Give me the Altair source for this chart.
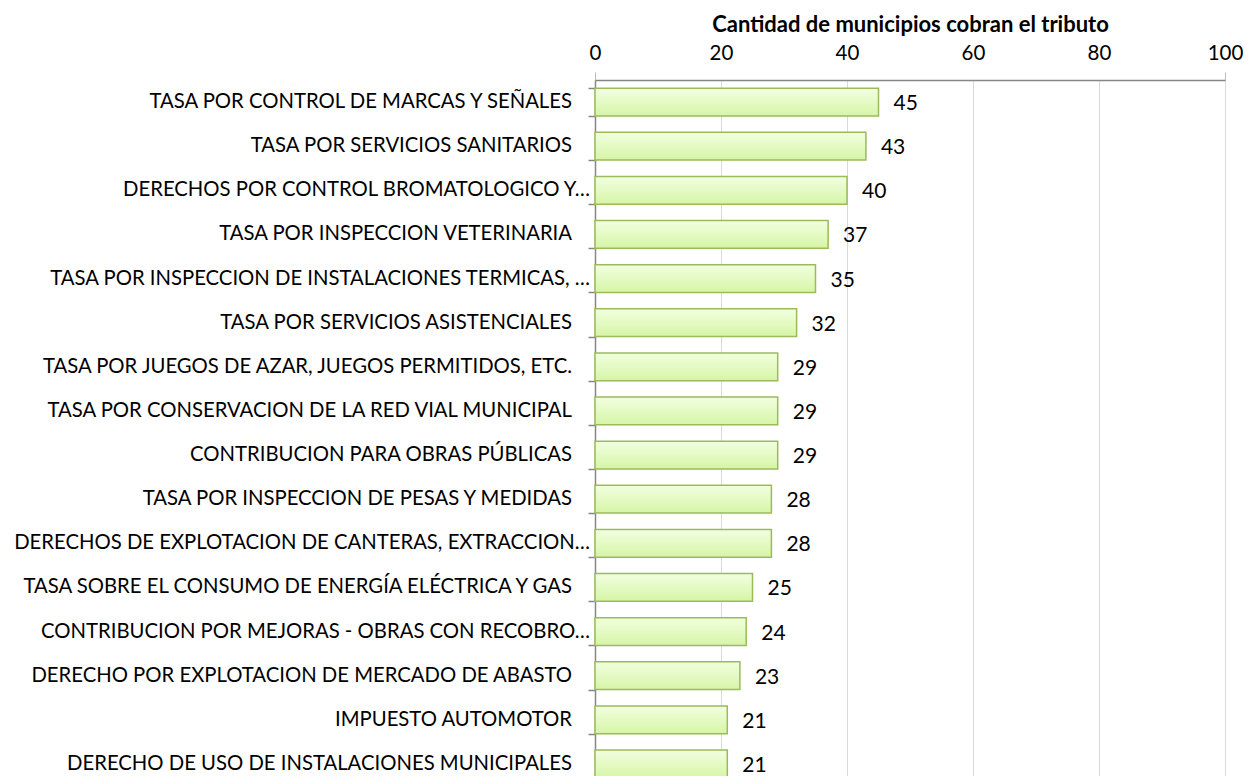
import altair as alt
import pandas as pd

categorias = [
    "TASA POR CONTROL DE MARCAS Y SEÑALES",
    "TASA POR SERVICIOS SANITARIOS",
    "DERECHOS POR CONTROL BROMATOLOGICO Y…",
    "TASA POR INSPECCION VETERINARIA",
    "TASA POR INSPECCION DE INSTALACIONES TERMICAS, …",
    "TASA POR SERVICIOS ASISTENCIALES",
    "TASA POR JUEGOS DE AZAR, JUEGOS PERMITIDOS, ETC.",
    "TASA POR CONSERVACION DE LA RED VIAL MUNICIPAL",
    "CONTRIBUCION PARA OBRAS PÚBLICAS",
    "TASA POR INSPECCION DE PESAS Y MEDIDAS",
    "DERECHOS DE EXPLOTACION DE CANTERAS, EXTRACCION…",
    "TASA SOBRE EL CONSUMO DE ENERGÍA ELÉCTRICA Y GAS",
    "CONTRIBUCION POR MEJORAS - OBRAS CON RECOBRO…",
    "DERECHO POR EXPLOTACION DE MERCADO DE ABASTO",
    "IMPUESTO AUTOMOTOR",
    "DERECHO DE USO DE INSTALACIONES MUNICIPALES",
]
valores = [45, 43, 40, 37, 35, 32, 29, 29, 29, 28, 28, 25, 24, 23, 21, 21]
ticks_x = [0, 20, 40, 60, 80, 100]

df = pd.DataFrame({"cat": categorias, "val": valores})

FONT = "Lato"
PLOT_W = 630
VIEW_H = 696
BAND_RANGE = 706

y_scale = alt.Scale(paddingInner=0.37, paddingOuter=0.185, range=[0, BAND_RANGE])

y_enc = alt.Y(
    "cat:N",
    sort=categorias,
    title=None,
    scale=y_scale,
    axis=alt.Axis(
        domainColor="#868686",
        domainWidth=1.5,
        tickColor="#868686",
        tickWidth=1.5,
        tickSize=7,
        tickBand="extent",
        labels=False,
        grid=False,
    ),
)

x_enc = alt.X(
    "val:Q",
    scale=alt.Scale(domain=[0, 100], nice=False),
    axis=alt.Axis(
        orient="top",
        values=ticks_x,
        title="Cantidad de municipios cobran el tributo",
        titleFont=FONT,
        titleFontSize=22,
        titleFontWeight="bold",
        titleColor="#000000",
        titleX=PLOT_W / 2,
        titleY=-49,
        titleAlign="center",
        titleBaseline="alphabetic",
        labelFont=FONT,
        labelFontSize=20.5,
        labelColor="#000000",
        labelFlush=False,
        tickSize=8,
        tickColor="#bfbfbf",
        tickOpacity={"condition": {"test": "datum.value == 0 || datum.value == 100", "value": 1}, "value": 0},
        labelPadding=9,
        domainColor="#868686",
        domainWidth=1.5,
        grid=True,
        gridColor="#d9d9d9",
        gridWidth=1,
    ),
)

base = alt.Chart(df)

bars = base.mark_bar(
    color=alt.Gradient(
        gradient="linear",
        x1=0, y1=0, x2=0, y2=1,
        stops=[
            alt.GradientStop(offset=0, color="#f2ffe0"),
            alt.GradientStop(offset=1, color="#d6f5a6"),
        ],
    ),
    stroke="#9bbb59",
    strokeWidth=1.5,
).encode(x=x_enc, y=y_enc)

values_text = base.mark_text(
    align="left",
    baseline="middle",
    dx=15,
    dy=2,
    font=FONT,
    fontSize=21,
    color="#000000",
).encode(x="val:Q", y=alt.Y("cat:N", sort=categorias), text="val:Q")

cat_text_style = dict(align="right", baseline="middle", font=FONT, fontSize=20.3, color="#000000")

cat_full = base.transform_filter(
    "indexof(datum.cat, '…') < 0"
).mark_text(**cat_text_style).encode(
    x=alt.value(-23), y=alt.Y("cat:N", sort=categorias), text="cat:N"
)

cat_cut = base.transform_filter(
    "indexof(datum.cat, '…') >= 0"
).mark_text(**cat_text_style).encode(
    x=alt.value(-5), y=alt.Y("cat:N", sort=categorias), text="cat:N"
)

chart = (
    (bars + values_text + cat_full + cat_cut)
    .properties(
        width=PLOT_W,
        height=VIEW_H,
        autosize=alt.AutoSizeParams(type="none"),
        padding={"left": 587, "top": 72, "right": 20, "bottom": 0},
    )
    .configure_view(stroke=None)
    .configure(background="white")
)

chart.save("out.html", embed_options={"renderer": "svg", "actions": False})
